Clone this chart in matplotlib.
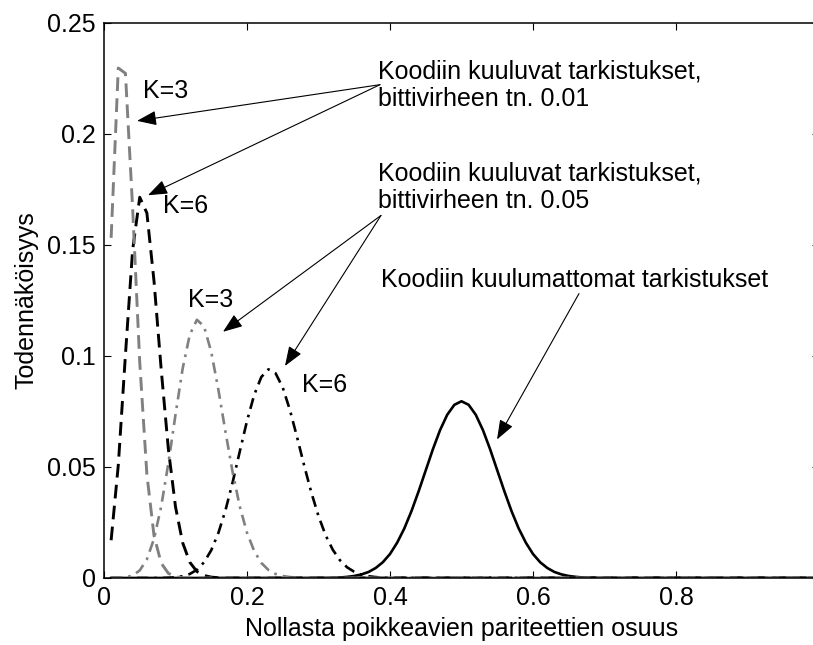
import matplotlib
matplotlib.use("Agg")
import matplotlib.pyplot as plt

plt.rcParams['font.family'] = ['Liberation Sans', 'DejaVu Sans']

# binomiaalijakaumat (N=100), luettu kuvasta
x_a = [0.01, 0.02, 0.03, 0.04, 0.05, 0.06, 0.07, 0.08, 0.09, 0.10, 0.11, 0.12, 1.00]
y_a = [0.1532, 0.2297, 0.2273, 0.1670, 0.0972, 0.0466, 0.0190, 0.0067, 0.0021, 0.0006, 0.0001, 0.0000, 0.0]

x_b = [0.01, 0.02, 0.03, 0.04, 0.05, 0.06, 0.07, 0.08, 0.09, 0.10, 0.11, 0.12,
       0.13, 0.14, 0.15, 0.16, 0.17, 0.18, 1.00]
y_b = [0.0170, 0.0508, 0.1005, 0.1476, 0.1715, 0.1644, 0.1336, 0.0940, 0.0582, 0.0321, 0.0159, 0.0071,
       0.0029, 0.0011, 0.0004, 0.0001, 0.0000, 0.0000, 0.0]

x_c = [0.01, 0.02, 0.03, 0.04, 0.05, 0.06, 0.07, 0.08, 0.09, 0.10, 0.11, 0.12, 0.13, 0.14,
       0.15, 0.16, 0.17, 0.18, 0.19, 0.20, 0.21, 0.22, 0.23, 0.24, 0.25, 0.26, 0.27, 0.28, 1.00]
y_c = [0.0000, 0.0001, 0.0003, 0.0011, 0.0034, 0.0084, 0.0177, 0.0322, 0.0516, 0.0735, 0.0943, 0.1096, 0.1163, 0.1133,
       0.1018, 0.0848, 0.0657, 0.0475, 0.0321, 0.0204, 0.0122, 0.0068, 0.0036, 0.0018, 0.0009, 0.0004, 0.0002, 0.0001, 0.0]

x_d = [0.01, 0.08, 0.09, 0.10, 0.11, 0.12, 0.13, 0.14, 0.15, 0.16, 0.17, 0.18, 0.19, 0.20, 0.21,
       0.22, 0.23, 0.24, 0.25, 0.26, 0.27, 0.28, 0.29, 0.30, 0.31, 0.32, 0.33, 0.34, 0.35, 0.36,
       0.37, 0.38, 0.39, 0.40, 1.00]
y_d = [0.0, 0.0000, 0.0001, 0.0003, 0.0008, 0.0018, 0.0037, 0.0071, 0.0125, 0.0203, 0.0306, 0.0432, 0.0571, 0.0707, 0.0824,
       0.0905, 0.0940, 0.0922, 0.0858, 0.0757, 0.0635, 0.0506, 0.0385, 0.0279, 0.0192, 0.0127, 0.0080, 0.0048, 0.0028, 0.0015,
       0.0008, 0.0004, 0.0002, 0.0001, 0.0]

x_e = [0.01, 0.30, 0.31, 0.32, 0.33, 0.34, 0.35, 0.36, 0.37, 0.38, 0.39, 0.40, 0.41, 0.42, 0.43, 0.44,
       0.45, 0.46, 0.47, 0.48, 0.49, 0.50, 0.51, 0.52, 0.53, 0.54, 0.55, 0.56, 0.57, 0.58, 0.59,
       0.60, 0.61, 0.62, 0.63, 0.64, 0.65, 0.66, 0.67, 0.68, 0.69, 0.70, 1.00]
y_e = [0.0, 0.0000, 0.0001, 0.0001, 0.0002, 0.0005, 0.0009, 0.0016, 0.0027, 0.0045, 0.0071, 0.0108, 0.0159, 0.0223, 0.0301, 0.0390,
       0.0485, 0.0580, 0.0666, 0.0735, 0.0780, 0.0796, 0.0780, 0.0735, 0.0666, 0.0580, 0.0485, 0.0390, 0.0301, 0.0223, 0.0159,
       0.0108, 0.0071, 0.0045, 0.0027, 0.0016, 0.0009, 0.0005, 0.0002, 0.0001, 0.0001, 0.0000, 0.0]

x_ticks = [0, 0.2, 0.4, 0.6, 0.8, 1.0]
x_labels = ["0", "0.2", "0.4", "0.6", "0.8", "1"]
y_ticks = [0, 0.05, 0.1, 0.15, 0.2, 0.25]
y_labels = ["0", "0.05", "0.1", "0.15", "0.2", "0.25"]

gray = "#808080"
fs = 18

fig = plt.figure(figsize=(8.13, 6.45), dpi=100)
ax = fig.add_axes([0.1279, 0.1039, 0.8795, 0.8605])

ax.plot(x_e, y_e, color="k", lw=1.9)
ax.plot(x_d, y_d, color="k", lw=1.9, dashes=(4.2, 2.3, 1, 2.3))
ax.plot(x_c, y_c, color=gray, lw=1.9, dashes=(4.2, 2.3, 1, 2.3))
ax.plot(x_b, y_b, color="k", lw=2.1, dashes=(4.7, 2.5))
ax.plot(x_a, y_a, color=gray, lw=2.1, dashes=(4.7, 2.5))

ax.set_xlim(0, 1)
ax.set_ylim(0, 0.25)
ax.set_xticks(x_ticks)
ax.set_xticklabels(x_labels)
ax.set_yticks(y_ticks)
ax.set_yticklabels(y_labels)
ax.tick_params(direction="in", length=5, width=0.8, top=True, right=True, labelsize=fs, pad=6)
for s in ax.spines.values():
    s.set_linewidth(1.1)

ax.set_xlabel("Nollasta poikkeavien pariteettien osuus", fontsize=fs, labelpad=5)
ax.set_ylabel("Todennäköisyys", fontsize=fs, labelpad=6)

# tekstit
ax.text(0.0545, 0.2163, "K=3", fontsize=fs, va="baseline")
ax.text(0.0825, 0.1643, "K=6", fontsize=fs, va="baseline")
ax.text(0.1175, 0.1222, "K=3", fontsize=fs, va="baseline")
ax.text(0.277, 0.0837, "K=6", fontsize=fs, va="baseline")
ax.text(0.3832, 0.2249, "Koodiin kuuluvat tarkistukset,", fontsize=fs, va="baseline")
ax.text(0.3832, 0.2127, "bittivirheen tn. 0.01", fontsize=fs, va="baseline")
ax.text(0.3832, 0.1792, "Koodiin kuuluvat tarkistukset,", fontsize=fs, va="baseline")
ax.text(0.3832, 0.1665, "bittivirheen tn. 0.05", fontsize=fs, va="baseline")
ax.text(0.3874, 0.1312, "Koodiin kuulumattomat tarkistukset", fontsize=fs, va="baseline")

# nuolet
arrows = [
    ((0.386, 0.2222), (0.0462, 0.2059)),
    ((0.386, 0.2222), (0.0615, 0.1724)),
    ((0.3874, 0.1633), (0.1664, 0.1109)),
    ((0.3874, 0.1633), (0.2531, 0.0955)),
    ((0.6643, 0.1281), (0.5497, 0.0624)),
]
for start, end in arrows:
    ax.annotate("", xy=end, xytext=start,
                arrowprops=dict(arrowstyle="-|>,head_length=1.2,head_width=0.45",
                                color="k", lw=0.8, shrinkA=0, shrinkB=0, mutation_scale=10))

fig.savefig("out.png", dpi=100)
